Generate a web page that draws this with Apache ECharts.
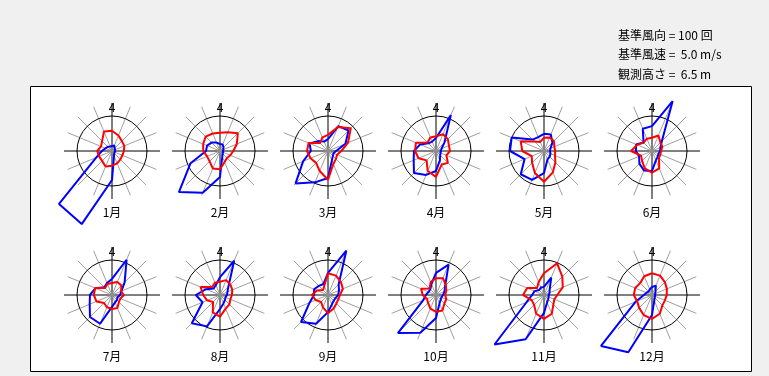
<!DOCTYPE html>
<html>
<head>
<meta charset="utf-8">
<script src="https://cdn.jsdelivr.net/npm/echarts@6/dist/echarts.min.js"></script>
<style>
html, body { margin: 0; padding: 0; background: #f0f0f0; }
#chart { width: 769px; height: 376px; }
</style>
</head>
<body>
<div id="chart"></div>
<script>
// 16方位 (北から時計回り)
const directions = ["N", "NNE", "NE", "ENE", "E", "ESE", "SE", "SSE", "S", "SSW", "SW", "WSW", "W", "WNW", "NW", "NNW"];
const months = ["1月", "2月", "3月", "4月", "5月", "6月", "7月", "8月", "9月", "10月", "11月", "12月"];

// 風向出現回数 (月別, 16方位)
const freqCounts = [
  [14, 17, 11, 9, 9, 9, 9, 11, 83, 226, 214, 49, 29, 20, 17, 14],
  [20, 20, 14, 11, 9, 9, 11, 17, 74, 129, 166, 91, 40, 40, 34, 26],
  [34, 77, 83, 54, 23, 17, 17, 29, 77, 97, 131, 77, 49, 57, 40, 29],
  [37, 111, 34, 17, 14, 14, 17, 29, 57, 74, 89, 69, 63, 49, 31, 29],
  [49, 51, 34, 20, 17, 20, 23, 26, 63, 89, 94, 60, 97, 100, 46, 43],
  [71, 154, 40, 26, 23, 20, 23, 29, 57, 60, 51, 40, 46, 49, 34, 69],
  [46, 109, 51, 29, 23, 17, 20, 23, 34, 89, 89, 69, 63, 51, 31, 37],
  [51, 106, 34, 23, 20, 17, 20, 26, 40, 97, 114, 54, 69, 43, 26, 31],
  [63, 137, 43, 34, 29, 23, 23, 29, 49, 89, 109, 57, 40, 43, 37, 34],
  [63, 94, 37, 26, 20, 17, 17, 26, 66, 117, 154, 40, 29, 23, 23, 34],
  [23, 54, 23, 17, 14, 14, 17, 23, 51, 137, 200, 54, 34, 29, 20, 23],
  [23, 29, 14, 11, 9, 9, 11, 17, 57, 177, 206, 51, 23, 17, 14, 17]
];

// 平均風速 m/s (月別, 16方位)
const windSpeed = [
  [2.9, 2.4, 2.0, 1.9, 1.7, 1.6, 1.7, 1.9, 2.1, 2.4, 2.0, 2.0, 2.1, 1.7, 2.0, 3.0],
  [2.6, 2.9, 3.6, 2.6, 1.9, 1.6, 1.4, 1.7, 2.6, 2.7, 2.1, 2.0, 2.4, 2.6, 2.9, 2.7],
  [2.3, 3.7, 4.6, 3.1, 1.9, 1.4, 1.6, 2.0, 4.1, 3.1, 2.4, 2.7, 3.0, 3.0, 1.6, 2.1],
  [2.1, 2.6, 2.4, 2.0, 2.0, 1.6, 2.4, 2.1, 3.7, 3.1, 1.9, 2.7, 3.0, 3.1, 1.7, 2.1],
  [1.9, 2.1, 2.0, 1.6, 1.6, 1.7, 2.3, 3.3, 4.4, 3.4, 2.4, 1.9, 3.1, 3.6, 1.9, 1.4],
  [1.9, 2.4, 1.7, 1.6, 1.3, 1.3, 1.4, 2.7, 3.1, 2.7, 2.0, 1.7, 3.0, 2.3, 1.7, 1.9],
  [1.7, 2.0, 1.9, 1.4, 1.7, 1.3, 1.4, 2.0, 2.0, 1.9, 1.6, 2.4, 2.6, 2.6, 1.4, 1.7],
  [1.9, 2.3, 2.1, 1.9, 1.7, 1.6, 1.9, 2.1, 3.1, 2.7, 1.4, 2.0, 2.4, 3.0, 1.6, 1.9],
  [3.1, 3.0, 2.6, 2.3, 1.7, 1.6, 1.7, 2.1, 2.6, 1.9, 1.4, 1.9, 2.3, 1.7, 1.0, 1.4],
  [2.4, 2.6, 2.0, 1.6, 1.3, 1.6, 1.7, 2.4, 2.4, 2.1, 1.6, 1.4, 1.9, 2.3, 1.3, 2.0],
  [3.1, 4.9, 3.7, 2.9, 1.9, 1.6, 1.9, 2.9, 3.4, 2.9, 2.0, 1.9, 3.0, 2.6, 1.4, 2.0],
  [3.1, 3.0, 2.6, 2.3, 2.1, 2.0, 2.1, 2.9, 3.4, 3.1, 2.6, 2.3, 2.6, 2.6, 2.4, 2.9]
];

const refCount = 100;   // 基準風向
const refSpeed = 5.0;   // 基準風速
const infoLines = ["基準風向 = 100 回", "基準風速 =  5.0 m/s", "観測高さ =  6.5 m"];

const colX = [112, 220, 328, 436, 544, 652];
const rowY = [151, 295];
const FONT = "'Noto Sans CJK JP', sans-serif";
const R_REF = 35;     // 基準円の半径
const R_SPOKE = 48;   // 放射線の長さ
const R_DATA = 84;    // データ用の極座標 (基準円を超える値のため大きめ)

// [radius, angle] の組にして、最初の点で閉じる
function closed(values) {
  const step = 360 / directions.length;
  const pts = values.map((v, i) => [v, i * step]);
  pts.push([values[0], 360]);
  return pts;
}

const hiddenAngle = {
  type: "value", min: 0, max: 360, startAngle: 90, clockwise: true, interval: 90,
  axisLine: { show: false }, axisTick: { show: false },
  axisLabel: { show: false }, splitLine: { show: false }
};
const hiddenRadius = {
  type: "value", min: 0,
  axisLine: { show: false }, axisTick: { show: false },
  axisLabel: { show: false }, splitLine: { show: false }
};

const polar = [], angleAxis = [], radiusAxis = [], series = [];
const graphics = [
  {
    type: "rect", z: -100,
    shape: { x: 30.5, y: 86.5, width: 721, height: 285 },
    style: { fill: "#fff", stroke: "#000", lineWidth: 1 }
  }
];

months.forEach((m, i) => {
  const c = [colX[i % 6], rowY[Math.floor(i / 6)]];
  const base = i * 4;

  // 放射線
  polar.push({ center: c, radius: R_SPOKE });
  angleAxis.push(Object.assign({}, hiddenAngle, {
    polarIndex: base, interval: 22.5,
    splitLine: { show: true, lineStyle: { color: ["#000", "#a0a0a0", "#a0a0a0", "#a0a0a0"], width: 1 } }
  }));
  radiusAxis.push(Object.assign({}, hiddenRadius, { polarIndex: base, max: 1 }));

  // 基準円
  polar.push({ center: c, radius: R_REF });
  angleAxis.push(Object.assign({}, hiddenAngle, {
    polarIndex: base + 1,
    axisLine: { show: true, lineStyle: { color: "#000", width: 1 } },
    axisLabel: {
      show: true, margin: 3, color: "#000", fontSize: 12, fontFamily: FONT,
      formatter: function (v) { return v === 0 ? "4" : ""; }
    }
  }));
  radiusAxis.push(Object.assign({}, hiddenRadius, { polarIndex: base + 1, max: 1 }));

  // 風向回数 : 基準円 = refCount
  polar.push({ center: c, radius: R_DATA });
  angleAxis.push(Object.assign({}, hiddenAngle, { polarIndex: base + 2 }));
  radiusAxis.push(Object.assign({}, hiddenRadius, { polarIndex: base + 2, max: refCount * R_DATA / R_REF }));

  // 風速 : 基準円 = refSpeed
  polar.push({ center: c, radius: R_DATA });
  angleAxis.push(Object.assign({}, hiddenAngle, { polarIndex: base + 3 }));
  radiusAxis.push(Object.assign({}, hiddenRadius, { polarIndex: base + 3, max: refSpeed * R_DATA / R_REF }));

  series.push({
    type: "scatter", coordinateSystem: "polar", polarIndex: base + 2,
    data: [[0, 0]], symbolSize: 5, itemStyle: { color: "#8a8a8a" }, silent: true
  });
  series.push({
    name: "風向" + m, type: "line", coordinateSystem: "polar", polarIndex: base + 2,
    data: closed(freqCounts[i]), symbol: "none", clip: false, z: 3,
    lineStyle: { color: "#0000ff", width: 2 }
  });
  series.push({
    name: "風速" + m, type: "line", coordinateSystem: "polar", polarIndex: base + 3,
    data: closed(windSpeed[i]), symbol: "none", clip: false, z: 4,
    lineStyle: { color: "#ff0000", width: 2 }
  });

  graphics.push({
    type: "text", x: c[0], y: c[1] + 61,
    style: { text: m, fill: "#000", font: "12px " + FONT, align: "center", verticalAlign: "middle" }
  });
});

infoLines.forEach((t, k) => {
  graphics.push({
    type: "text", x: 618, y: 35 + k * 19.5,
    style: { text: t, fill: "#000", font: "12px " + FONT, align: "left", verticalAlign: "middle" }
  });
});

const chart = echarts.init(document.getElementById("chart"));
chart.setOption({
  backgroundColor: "#f0f0f0",
  animation: false,
  polar: polar,
  angleAxis: angleAxis,
  radiusAxis: radiusAxis,
  graphic: { elements: graphics },
  series: series
});
</script>
</body>
</html>
